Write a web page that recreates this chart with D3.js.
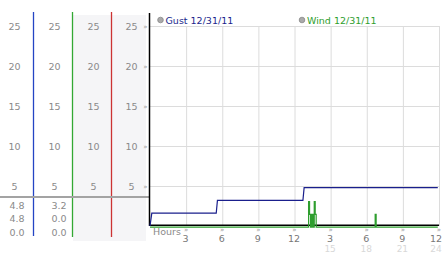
<!DOCTYPE html>
<html>
<head>
<meta charset="utf-8">
<script src="https://cdn.jsdelivr.net/npm/d3@7"></script>
<style>
  body { margin: 0; background: #fff; }
  svg { display: block; font-family: "DejaVu Sans", Verdana, sans-serif; }
</style>
</head>
<body>
<svg id="chart" width="442" height="253"></svg>
<script>
const width = 442;
const height = 253;

// Series values (hours since midnight, mph)
const gustHours  = [0, 0.15, 5.5, 5.6, 12.7, 12.8, 23.9];
const gustValues = [0, 1.6, 1.6, 3.2, 3.2, 4.8, 4.8];

// wind readings, drawn as steps
const windHours  = [0, 13.17, 13.25, 13.33, 13.42, 13.5, 13.53, 13.61, 13.64, 13.72, 13.8, 18.7, 18.78, 23.9];
const windValues = [0, 3.2, 1.6, 0, 1.6, 0, 1.6, 0, 3.2, 1.6, 0, 1.6, 0, 0];

// Axis ticks and labels
const yTicks = [5, 10, 15, 20, 25];
const xTicks = [3, 6, 9, 12, 15, 18, 21, 24];
const xLabels12 = ["3", "6", "9", "12", "3", "6", "9", "12"];
const xLabels24 = ["", "", "", "", "15", "18", "21", "24"];

// Legend and side table
const seriesNames = ["Gust 12/31/11", "Wind 12/31/11"];
const statsGust = ["4.8", "4.8", "0.0"];
const statsWind = ["3.2", "0.0", "0.0"];

const navy = "#1a1f8c";
const green = "#2e9e2e";
const labelGrey = "#8a8a8a";

const svg = d3.select("#chart");

const x = d3.scaleLinear().domain([0, 24]).range([150, 439]);
const y = d3.scaleLinear().domain([0, 25]).range([226, 26]);

// left panel background and divider lines
svg.append("rect")
  .attr("x", 73).attr("y", 15)
  .attr("width", 73).attr("height", 226)
  .attr("fill", "#f5f5f7");

const dividers = [
  { x: 33.5, color: "#2444c4", y2: 236 },
  { x: 72.5, color: "#33a833", y2: 237 },
  { x: 111.5, color: "#cc3333", y2: 237 }
];
svg.selectAll(".divider")
  .data(dividers)
  .enter()
  .append("line")
  .attr("x1", d => d.x).attr("x2", d => d.x)
  .attr("y1", 12).attr("y2", d => d.y2)
  .attr("stroke", d => d.color)
  .attr("stroke-width", 1.3);

// y labels repeated in four columns
const columns = [14.5, 54.5, 93.5, 131.5];
columns.forEach(cx => {
  svg.append("g")
    .selectAll("text")
    .data(yTicks)
    .enter()
    .append("text")
    .attr("x", cx)
    .attr("y", d => y(d) + 3.5)
    .attr("text-anchor", "middle")
    .attr("font-size", 9.5)
    .attr("fill", labelGrey)
    .text(d => d);
});

// small handle marks next to the axis
svg.append("g")
  .selectAll("text")
  .data(yTicks)
  .enter()
  .append("text")
  .attr("x", 145.5)
  .attr("y", d => y(d) + 2.5)
  .attr("text-anchor", "middle")
  .attr("font-size", 7)
  .attr("fill", "#999")
  .text("\u00bb");

// separator above the stats table
svg.append("line")
  .attr("x1", 0).attr("x2", 149)
  .attr("y1", 197).attr("y2", 197)
  .attr("stroke", "#a3a3a3")
  .attr("stroke-width", 2);

const statRows = [205, 218.5, 232];
[[statsGust, 17], [statsWind, 59]].forEach(([vals, cx]) => {
  svg.append("g")
    .selectAll("text")
    .data(vals)
    .enter()
    .append("text")
    .attr("x", cx)
    .attr("y", (d, i) => statRows[i] + 3.5)
    .attr("text-anchor", "middle")
    .attr("font-size", 9.5)
    .attr("fill", labelGrey)
    .text(d => d);
});

// grid
svg.append("g")
  .attr("transform", "translate(150,0)")
  .call(d3.axisLeft(y).tickValues(yTicks).tickSize(-(439 - 150)).tickFormat(""))
  .call(g => g.select(".domain").remove())
  .call(g => g.selectAll("line").attr("stroke", "#dcdcdc"));

svg.append("g")
  .attr("transform", `translate(0,${y(0)})`)
  .call(d3.axisBottom(x).tickValues(xTicks).tickSize(-(y(0) - y(25))).tickFormat(""))
  .call(g => g.select(".domain").remove())
  .call(g => g.selectAll("line").attr("stroke", "#dcdcdc"));

// axes lines
svg.append("line")
  .attr("x1", 149.5).attr("x2", 149.5)
  .attr("y1", 13).attr("y2", 226)
  .attr("stroke", "#000").attr("stroke-width", 1.5);
svg.append("line")
  .attr("x1", 149.5).attr("x2", 439)
  .attr("y1", 225.3).attr("y2", 225.3)
  .attr("stroke", "#000").attr("stroke-width", 1.5);

// series
const windLine = d3.line()
  .curve(d3.curveStepAfter)
  .x(d => x(d[0]))
  .y(d => y(d[1]) + 1.2);
svg.append("path")
  .datum(d3.zip(windHours, windValues))
  .attr("d", windLine)
  .attr("fill", "none")
  .attr("stroke", green)
  .attr("stroke-width", 1.2);

const gustLine = d3.line()
  .x(d => x(d[0]))
  .y(d => y(d[1]));
svg.append("path")
  .datum(d3.zip(gustHours, gustValues))
  .attr("d", gustLine)
  .attr("fill", "none")
  .attr("stroke", navy)
  .attr("stroke-width", 1.2);

// x axis labels
svg.append("text")
  .attr("x", 153).attr("y", 235)
  .attr("font-size", 9.5)
  .attr("fill", labelGrey)
  .text("Hours");

svg.append("g")
  .selectAll("text")
  .data(xTicks)
  .enter()
  .append("text")
  .attr("x", d => x(d))
  .attr("y", 231.5)
  .attr("text-anchor", "middle")
  .attr("font-size", 7)
  .attr("fill", "#999")
  .text("\u00bb");

svg.append("g")
  .selectAll("text")
  .data(xTicks)
  .enter()
  .append("text")
  .attr("x", d => Math.min(x(d) - 0.5, 436))
  .attr("y", 242)
  .attr("text-anchor", "middle")
  .attr("font-size", 9.5)
  .attr("fill", "#777")
  .text((d, i) => xLabels12[i]);

svg.append("g")
  .selectAll("text")
  .data(xTicks)
  .enter()
  .append("text")
  .attr("x", d => Math.min(x(d) - 0.5, 436))
  .attr("y", 251.5)
  .attr("text-anchor", "middle")
  .attr("font-size", 9)
  .attr("fill", "#d8d8d8")
  .text((d, i) => xLabels24[i]);

// legend
const legendX = [160.5, 302];
const legendColors = [navy, green];
const legend = svg.append("g")
  .selectAll("g")
  .data(seriesNames)
  .enter()
  .append("g")
  .attr("transform", (d, i) => `translate(${legendX[i]},20)`);
legend.append("circle")
  .attr("r", 2.8)
  .attr("fill", "#aaa")
  .attr("stroke", "#888")
  .attr("stroke-width", 0.8);
legend.append("text")
  .attr("x", 5)
  .attr("y", 3.5)
  .attr("font-size", 9.5)
  .attr("fill", (d, i) => legendColors[i])
  .text(d => d);
</script>
</body>
</html>
